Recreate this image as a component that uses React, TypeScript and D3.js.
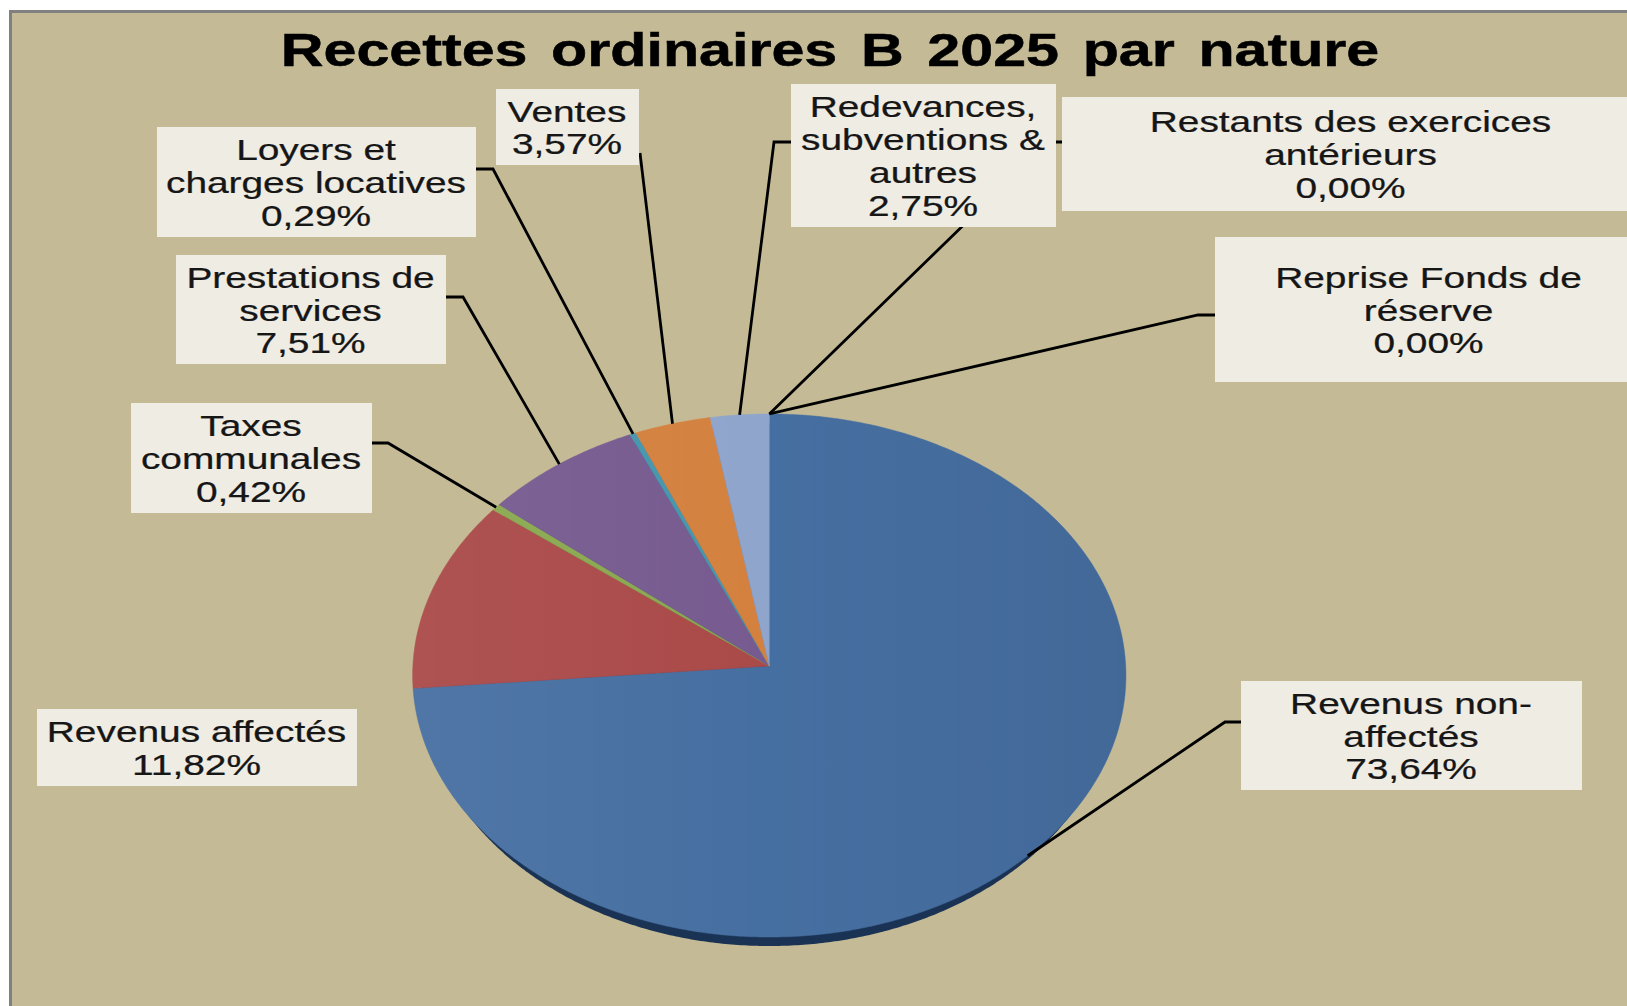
import React from 'react';
import * as d3 from 'd3';

const W = 1627;
const H = 1006;

const categories = [
  ['Revenus non-', 'affectés'],
  ['Revenus affectés'],
  ['Taxes', 'communales'],
  ['Prestations de', 'services'],
  ['Loyers et', 'charges locatives'],
  ['Ventes'],
  ['Redevances,', 'subventions &', 'autres'],
  ['Restants des exercices', 'antérieurs'],
  ['Reprise Fonds de', 'réserve'],
];
const values = [73.64, 11.82, 0.42, 7.51, 0.29, 3.57, 2.75, 0, 0];
const colors = ['#466fa1', '#aa4a49', '#8aa84f', '#775b90', '#4597ae', '#d4813f', '#8fa5cc', '#5f7fb5', '#b05c5a'];

// label boxes: x, y, w, h, then the leader's attach point and elbow (null when there is no leader)
const boxes = [
  { x: 1241, y: 681, w: 341, h: 109, start: [1241, 722], elbow: [1225, 722], nudge: 2.5 },
  { x: 37, y: 709, w: 320, h: 77 },
  { x: 131, y: 403, w: 241, h: 110, start: [372, 443], elbow: [388, 443] },
  { x: 176, y: 255, w: 270, h: 109, start: [446, 297], elbow: [463, 297] },
  { x: 157, y: 127, w: 319, h: 110, start: [476, 169], elbow: [493, 169] },
  { x: 496, y: 89, w: 143, h: 76, start: [640, 153], elbow: [640, 153] },
  { x: 791, y: 84, w: 265, h: 143, start: [791, 142], elbow: [774, 142] },
  { x: 1062, y: 97, w: 578, h: 114, start: [1062, 142], elbow: [1049, 142] },
  { x: 1215, y: 237, w: 428, h: 145, start: [1215, 315], elbow: [1198, 315] },
];

// the picture is a tilted pie stretched sideways, so the rim is not a plain ellipse
const cx = 769.3;
const cy = 666;
const rx = 356.4;
const ry = 261.2;
const tilt = 0.0363;
const depth = 9;

const project = (angle: number, r = 1, a = rx): [number, number] => {
  const u = Math.sin(angle) * r;
  const v = Math.cos(angle) * r;
  const w = 1 + tilt * v;
  return [cx + (a * u) / w, cy - (ry * v) / w];
};

const stretch = 1.34;
const percent = (v: number) => v.toFixed(2).replace('.', ',') + '%';

export default function App() {
  const arcs = d3.pie<number>().sort(null)(values);
  const line = d3.line();
  const step = Math.PI / 360;

  const wedge = (start: number, end: number) => {
    const rim = d3.range(start, end, step).concat(end).map((t) => project(t));
    return line([project(0, 0), ...rim]) + 'Z';
  };

  const disc = d3.range(0, 2 * Math.PI, step).map((t) => project(t, 1, rx - depth));

  return (
    <svg width={W} height={H} style={{ position: 'absolute', left: 0, top: 0, display: 'block' }}>
      <defs>
        <linearGradient id="sheen" gradientUnits="userSpaceOnUse" x1={cx - rx} y1={cy} x2={cx + rx} y2={cy}>
          <stop offset="0" stopColor="#fff" stopOpacity={0.05} />
          <stop offset="0.5" stopColor="#fff" stopOpacity={0} />
          <stop offset="0.5" stopColor="#000" stopOpacity={0} />
          <stop offset="1" stopColor="#000" stopOpacity={0.06} />
        </linearGradient>
      </defs>

      <rect width={W} height={H} fill="#fff" />
      <rect x={9} y={10} width={W} height={H} fill="#808080" />
      <rect x={12} y={13} width={W} height={H} fill="#c4bb96" />

      <text
        transform="translate(830,65.5) scale(1.287,1)"
        textAnchor="middle"
        fontFamily="Liberation Sans"
        fontWeight="bold"
        fontSize={46}
        wordSpacing={5.6}
        fill="#000"
        stroke="#000"
        strokeWidth={0.5}
      >
        Recettes ordinaires B 2025 par nature
      </text>

      <path d={line(disc) + 'Z'} transform={`translate(0,${depth})`} fill="#1a3354" />
      {arcs.map((d, i) =>
        d.endAngle > d.startAngle ? (
          <path key={i} d={wedge(d.startAngle, d.endAngle)} fill={colors[i]} stroke={colors[i]} strokeWidth={0.5} />
        ) : null
      )}
      <path d={wedge(0, 2 * Math.PI)} fill="url(#sheen)" />

      {arcs.map((d, i) => {
        const b = boxes[i];
        if (!b.start) return null;
        const mid = (d.startAngle + d.endAngle) / 2 + ((b.nudge || 0) * Math.PI) / 180;
        const pts = [b.start, b.elbow, project(mid)] as [number, number][];
        return <path key={i} d={line(pts)!} fill="none" stroke="#000" strokeWidth={2.8} />;
      })}

      {boxes.map((b, i) => {
        const rows = [...categories[i], percent(values[i])];
        const mx = b.x + b.w / 2;
        const my = b.y + b.h / 2;
        return (
          <g key={i}>
            <rect x={b.x} y={b.y} width={b.w} height={b.h} fill="#efece3" />
            {rows.map((row, j) => (
              <text
                key={j}
                transform={`translate(${mx - 0.5},${my + (j - (rows.length - 1) / 2) * 32.7 + 11}) scale(${stretch},1)`}
                textAnchor="middle"
                fontFamily="Liberation Sans"
                fontSize={29}
                fill="#161616"
                stroke="#161616"
                strokeWidth={0.25}
              >
                {row}
              </text>
            ))}
          </g>
        );
      })}
    </svg>
  );
}
